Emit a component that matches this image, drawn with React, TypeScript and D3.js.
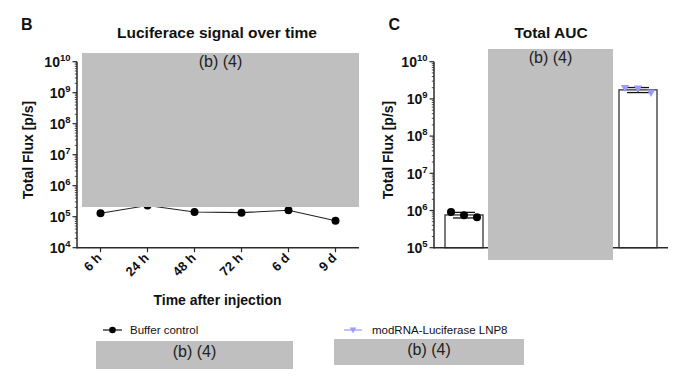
import React from "react";
import * as d3 from "d3";

const timeLabels = ["6 h", "24 h", "48 h", "72 h", "6 d", "9 d"];
const bufferSeries = [1.29e5, 2.3e5, 1.41e5, 1.35e5, 1.62e5, 7.4e4];

const aucGroups = ["Buffer control", "modRNA-Luciferase LNP8"];
const aucMeans = [7.6e5, 1.75e9];
const aucErrors = [1.3e5, 0.27e9];
const aucPointsBuffer = [9.1e5, 7.4e5, 6.6e5];
const aucPointsLNP = [1.95e9, 1.9e9, 1.45e9];

const yTicksB = [4, 5, 6, 7, 8, 9, 10];
const yTicksC = [5, 6, 7, 8, 9, 10];

const FONT = "'Liberation Sans', Arial, Helvetica, sans-serif";
const AXIS = "#2a2a2a";
const GRAY = "#bfbfbf";
const PURPLE = "#9a9aff";

function minorTicks(lo: number, hi: number) {
  const out: number[] = [];
  for (let e = lo; e < hi; e++) {
    for (let m = 2; m <= 9; m++) out.push(m * Math.pow(10, e));
  }
  return out;
}

function YAxis({ scale, x, exps, minor }: { scale: d3.ScaleLogarithmic<number, number>; x: number; exps: number[]; minor: number[] }) {
  const [y0, y1] = scale.range();
  return (
    <g>
      <line x1={x} x2={x} y1={y0 + 0.75} y2={y1} stroke={AXIS} strokeWidth={1.5} />
      {minor.map((v, i) => (
        <line key={"m" + i} x1={x - 2.2} x2={x} y1={scale(v)} y2={scale(v)} stroke={AXIS} strokeWidth={0.8} />
      ))}
      {exps.map((e) => {
        const y = scale(Math.pow(10, e));
        return (
          <g key={e}>
            <line x1={x - 4.5} x2={x} y1={y} y2={y} stroke={AXIS} strokeWidth={1.2} />
            <text x={x - 6.5} y={y + 5.2} textAnchor="end" fontFamily={FONT} fontWeight="bold" fontSize={14} fill="#111">
              <tspan>10</tspan>
              <tspan dy={-6} fontSize={9.5}>{e}</tspan>
            </text>
          </g>
        );
      })}
    </g>
  );
}

function Triangle({ x, y, s, fill }: { x: number; y: number; s: number; fill: string }) {
  const p = d3.path();
  p.moveTo(x - s, y - s * 0.75);
  p.lineTo(x + s, y - s * 0.75);
  p.lineTo(x, y + s * 0.95);
  p.closePath();
  return <path d={p.toString()} fill={fill} />;
}

export default function App() {
  // Panel B
  const bX0 = 77, bX1 = 359, bTop = 61.7, bBot = 247.7;
  const yB = d3.scaleLog().domain([1e4, 1e10]).range([bBot, bTop]);
  const xB = d3.scaleBand<string>().domain(timeLabels).range([bX0, bX1]);
  const cx = (t: string) => (xB(t) as number) + xB.bandwidth() / 2;
  const lineGen = d3
    .line<number>()
    .x((_, i) => cx(timeLabels[i]))
    .y((d) => yB(d));

  // Panel C
  const cX0 = 434, cX1 = 668, cTop = 61.7, cBot = 247.7;
  const yC = d3.scaleLog().domain([1e5, 1e10]).range([cBot, cTop]);
  const xC = d3.scalePoint<string>().domain(aucGroups).range([cX0 + 30, cX1 - 30]);
  const barW = 38;
  const capW = 22;
  const spread = 13;
  const groupPoints = [aucPointsBuffer, aucPointsLNP];

  return (
    <svg width={697} height={384} style={{ position: "absolute", left: 0, top: 0, background: "#fff" }}>
      <rect x={0} y={0} width={697} height={384} fill="#fff" />

      {/* Panel labels & titles */}
      <text x={21} y={29.5} fontFamily={FONT} fontWeight="bold" fontSize={16} fill="#111">B</text>
      <text x={217} y={37.5} textAnchor="middle" fontFamily={FONT} fontWeight="bold" fontSize={15.5} fill="#111">
        Luciferace signal over time
      </text>
      <text x={388.5} y={29.5} fontFamily={FONT} fontWeight="bold" fontSize={16} fill="#111">C</text>
      <text x={551} y={37.5} textAnchor="middle" fontFamily={FONT} fontWeight="bold" fontSize={15.5} fill="#111">
        Total AUC
      </text>

      {/* Panel B axes */}
      <YAxis scale={yB} x={bX0} exps={yTicksB} minor={minorTicks(4, 10)} />
      <line x1={bX0} x2={bX1} y1={bBot} y2={bBot} stroke={AXIS} strokeWidth={1.5} />
      {timeLabels.map((t) => (
        <g key={t}>
          <line x1={cx(t)} x2={cx(t)} y1={bBot} y2={bBot + 4.5} stroke={AXIS} strokeWidth={1.2} />
          <text
            transform={`translate(${cx(t) + 2},${bBot + 11}) rotate(-45)`}
            textAnchor="end"
            fontFamily={FONT}
            fontWeight="bold"
            fontSize={13}
            fill="#111"
          >
            {t}
          </text>
        </g>
      ))}
      <text x={217.5} y={305} textAnchor="middle" fontFamily={FONT} fontWeight="bold" fontSize={14} fill="#111">
        Time after injection
      </text>
      <text transform={`translate(33,150) rotate(-90)`} textAnchor="middle" fontFamily={FONT} fontWeight="bold" fontSize={14} fill="#111">
        Total Flux [p/s]
      </text>

      {/* Panel B data */}
      <path d={lineGen(bufferSeries) || ""} fill="none" stroke="#222" strokeWidth={1.1} />
      {bufferSeries.map((v, i) => (
        <circle key={i} cx={cx(timeLabels[i])} cy={yB(v)} r={4} fill="#000" />
      ))}

      {/* Panel C axes */}
      <YAxis scale={yC} x={cX0} exps={yTicksC} minor={minorTicks(5, 10)} />
      <text transform={`translate(393,150) rotate(-90)`} textAnchor="middle" fontFamily={FONT} fontWeight="bold" fontSize={14} fill="#111">
        Total Flux [p/s]
      </text>

      {/* Panel C bars */}
      {aucGroups.map((g, i) => {
        const x = xC(g) as number;
        const top = yC(aucMeans[i]);
        return (
          <rect key={g} x={x - barW / 2} y={top} width={barW} height={cBot - top} fill="#fff" stroke="#444" strokeWidth={1.4} />
        );
      })}
      <line x1={cX0} x2={cX1} y1={cBot} y2={cBot} stroke={AXIS} strokeWidth={1.5} />
      {aucGroups.map((g, i) => {
        const x = xC(g) as number;
        const hi = yC(aucMeans[i] + aucErrors[i]);
        const lo = yC(aucMeans[i] - aucErrors[i]);
        return (
          <g key={"e" + g} stroke="#111" strokeWidth={1.3}>
            <line x1={x} x2={x} y1={hi} y2={lo} />
            <line x1={x - capW / 2} x2={x + capW / 2} y1={hi} y2={hi} />
            <line x1={x - capW / 2} x2={x + capW / 2} y1={lo} y2={lo} />
          </g>
        );
      })}
      {groupPoints[0].map((v, j) => (
        <circle key={"p0" + j} cx={(xC(aucGroups[0]) as number) + (j - 1) * spread} cy={yC(v)} r={4} fill="#000" />
      ))}
      {groupPoints[1].map((v, j) => (
        <Triangle key={"p1" + j} x={(xC(aucGroups[1]) as number) + (j - 1) * spread} y={yC(v)} s={4.2} fill={PURPLE} />
      ))}

      {/* Legend */}
      <line x1={103} x2={122} y1={330} y2={330} stroke="#111" strokeWidth={1.2} />
      <circle cx={112.5} cy={330} r={3.3} fill="#000" />
      <text x={130} y={334} fontFamily={FONT} fontSize={11.5} fill="#111">{aucGroups[0]}</text>
      <line x1={344} x2={362} y1={330} y2={330} stroke={PURPLE} strokeWidth={1.2} />
      <Triangle x={353} y={330} s={3.3} fill={PURPLE} />
      <text x={372} y={334} fontFamily={FONT} fontSize={11.5} fill="#111">{aucGroups[1]}</text>

      {/* Redaction boxes */}
      <rect x={82} y={53} width={277} height={154} fill={GRAY} />
      <text x={220.5} y={67} textAnchor="middle" fontFamily={FONT} fontSize={16} fill="#222">(b) (4)</text>
      <rect x={488} y={49} width={125} height={211} fill={GRAY} />
      <text x={550.5} y={62.5} textAnchor="middle" fontFamily={FONT} fontSize={16} fill="#222">(b) (4)</text>
      <rect x={96} y={341} width={197} height={28} fill={GRAY} />
      <text x={194.5} y={356.5} textAnchor="middle" fontFamily={FONT} fontSize={16} fill="#222">(b) (4)</text>
      <rect x={334} y={339} width={190} height={26} fill={GRAY} />
      <text x={429} y={355} textAnchor="middle" fontFamily={FONT} fontSize={16} fill="#222">(b) (4)</text>
    </svg>
  );
}
